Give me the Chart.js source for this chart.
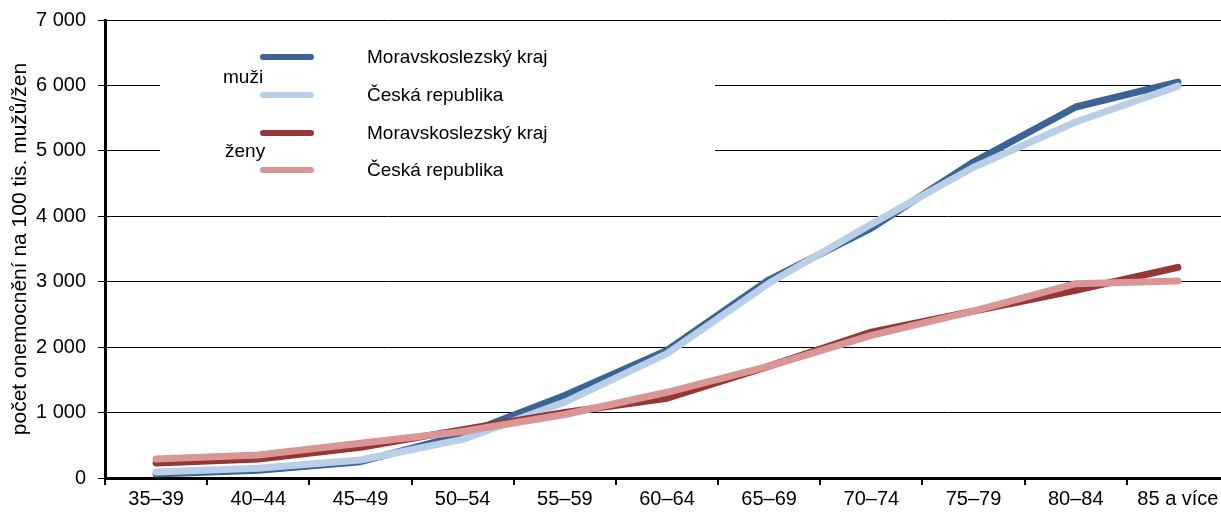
<!DOCTYPE html>
<html>
<head>
<meta charset="utf-8">
<script src="https://cdn.jsdelivr.net/npm/chart.js@4/dist/chart.umd.min.js"></script>
<style>
  html, body { margin: 0; padding: 0; background: #fff; overflow: hidden; }
  #wrap { width: 1221px; height: 513px; overflow: hidden; }
</style>
</head>
<body>
<div id="wrap"><canvas id="chart" width="1230" height="513"></canvas></div>
<script>
const labels = ["35–39", "40–44", "45–49", "50–54", "55–59", "60–64", "65–69", "70–74", "75–79", "80–84", "85 a více"];
const muziMSK = [60, 120, 250, 660, 1260, 1950, 3030, 3820, 4830, 5670, 6050];
const muziCR = [90, 150, 275, 590, 1160, 1900, 2980, 3880, 4750, 5440, 5990];
const zenyMSK = [230, 290, 470, 740, 1000, 1220, 1710, 2230, 2550, 2870, 3220];
const zenyCR = [290, 350, 530, 710, 970, 1310, 1710, 2180, 2550, 2970, 3010];
const yTicks = [0, 1000, 2000, 3000, 4000, 5000, 6000, 7000];

const font = "'Liberation Sans', Arial, sans-serif";
const colors = ["#3a6496", "#b9cfe7", "#953735", "#d99694"];

const legendBox = {
  id: "legendBox",
  beforeDatasetsDraw(chart) {
    const c = chart.ctx;
    c.save();
    c.fillStyle = "#fff";
    c.fillRect(160, 22, 555, 168);
    c.restore();
  },
  afterDraw(chart) {
    const c = chart.ctx;
    const rows = [
      { y: 57, color: colors[0], text: "Moravskoslezský kraj" },
      { y: 95, color: colors[1], text: "Česká republika" },
      { y: 133, color: colors[2], text: "Moravskoslezský kraj" },
      { y: 170, color: colors[3], text: "Česká republika" },
    ];
    c.save();
    c.lineCap = "round";
    c.lineWidth = 6;
    c.font = "19px " + font;
    c.textBaseline = "middle";
    rows.forEach((r) => {
      c.strokeStyle = r.color;
      c.beginPath();
      c.moveTo(263, r.y);
      c.lineTo(311, r.y);
      c.stroke();
      c.fillStyle = "#000";
      c.fillText(r.text, 367, r.y + 1);
    });
    c.fillText("muži", 223, 78);
    c.fillText("ženy", 225, 152);
    c.restore();
  },
};

const makeSet = (data, color, width, order) => ({
  data: data,
  borderColor: color,
  backgroundColor: color,
  borderWidth: width,
  borderCapStyle: "round",
  borderJoinStyle: "round",
  pointRadius: 0,
  tension: 0,
  order: order,
});

const config = {
  type: "line",
  data: {
    labels: labels,
    datasets: [
      makeSet(muziMSK, colors[0], 7, 4),
      makeSet(muziCR, colors[1], 7, 3),
      makeSet(zenyMSK, colors[2], 7, 2),
      makeSet(zenyCR, colors[3], 7, 1),
    ],
  },
  options: {
    responsive: false,
    animation: false,
    layout: { padding: { top: 20, right: 1, left: 0, bottom: 0 } },
    plugins: {
      legend: { display: false },
      tooltip: { enabled: false },
    },
    scales: {
      x: {
        offset: true,
        afterFit: (scale) => {
          scale.height = 35;
          scale.paddingLeft = 0;
          scale.paddingRight = 0;
        },
        grid: {
          offset: true,
          drawOnChartArea: false,
          drawTicks: true,
          tickLength: 7,
          color: "#000",
          lineWidth: 2,
        },
        border: { display: true, color: "#000", width: 3 },
        ticks: {
          color: "#000",
          font: { family: font, size: 20 },
          padding: 2,
          maxRotation: 0,
          autoSkip: false,
        },
      },
      y: {
        min: 0,
        max: 7000,
        afterFit: (scale) => {
          scale.width = 105;
          scale.paddingTop = 0;
          scale.paddingBottom = 0;
        },
        afterBuildTicks: (scale) => {
          scale.ticks = yTicks.map((v) => ({ value: v }));
        },
        grid: {
          color: "#000",
          lineWidth: 1,
          tickLength: 7,
        },
        border: { display: true, color: "#000", width: 3 },
        ticks: {
          color: "#000",
          font: { family: font, size: 20 },
          padding: 12,
          callback: (v) => (v >= 1000 ? Math.floor(v / 1000) + " " + String(v % 1000).padStart(3, "0") : String(v)),
        },
        title: {
          display: true,
          text: "počet onemocnění na 100 tis. mužů/žen",
          color: "#000",
          font: { family: font, size: 21 },
          padding: { top: 8, bottom: 0 },
        },
      },
    },
  },
  plugins: [legendBox],
};

const chart = new Chart(document.getElementById("chart").getContext("2d"), config);
</script>
</body>
</html>
